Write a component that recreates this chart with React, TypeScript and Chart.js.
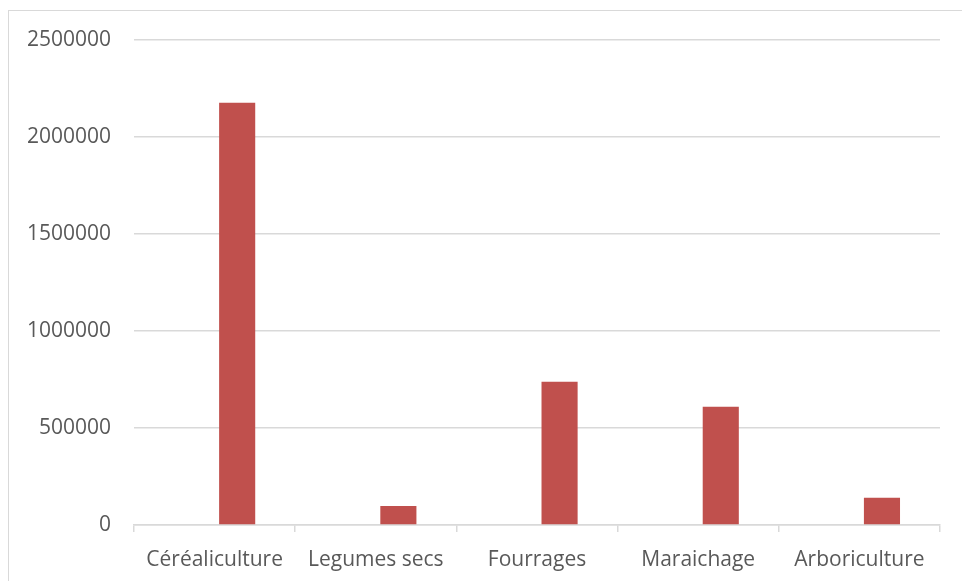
import React, { useEffect, useRef } from "react";
import { Chart, registerables } from "chart.js";

Chart.register(...registerables);

const categories = ["Céréaliculture", "Legumes secs", "Fourrages", "Maraichage", "Arboriculture"];
const emptySeries: (number | null)[] = [null, null, null, null, null];
const surfaceValues = [2176000, 98000, 739000, 609000, 141000];
const yMax = 2500000;
const yStep = 500000;

export default function App() {
  const ref = useRef<HTMLCanvasElement | null>(null);

  useEffect(() => {
    document.body.style.overflow = "hidden";
    const ctx = ref.current;
    if (!ctx) return;
    const font = { family: "'Open Sans', sans-serif", size: 21 };
    const chart = new Chart(ctx, {
      type: "bar",
      data: {
        labels: categories,
        datasets: [
          { label: "Série 1", data: emptySeries, backgroundColor: "#4F81BD" },
          { label: "Série 2", data: surfaceValues, backgroundColor: "#C0504D" },
        ],
      },
      options: {
        animation: false,
        responsive: false,
        maintainAspectRatio: false,
        devicePixelRatio: 1,
        layout: { padding: { top: 29, right: 23, bottom: 0, left: 0 } },
        plugins: { legend: { display: false }, tooltip: { enabled: false } },
        datasets: { bar: { categoryPercentage: 0.56, barPercentage: 0.8 } },
        scales: {
          x: {
            grid: {
              offset: true,
              drawOnChartArea: false,
              drawTicks: true,
              tickLength: 7,
              color: "#d9d9d9",
              lineWidth: 1.5,
            },
            border: { display: true, color: "#d9d9d9", width: 1.5 },
            ticks: { color: "#595959", font, padding: 15, maxRotation: 0, autoSkip: false },
            afterFit: (s: any) => {
              s.height = 56;
            },
          },
          y: {
            min: 0,
            max: yMax,
            ticks: {
              stepSize: yStep,
              color: "#595959",
              font,
              padding: 23,
              callback: (v: any) => String(v),
            },
            grid: { color: "#d9d9d9", lineWidth: 1.5, drawTicks: false },
            border: { display: false },
            afterFit: (s: any) => {
              s.width = 125;
              s.paddingTop = 0;
              s.paddingBottom = 0;
            },
          },
        },
      },
    } as any);
    return () => chart.destroy();
  }, []);

  return (
    <div
      style={{
        position: "absolute",
        left: 8,
        top: 10,
        width: 960,
        height: 600,
        border: "1.5px solid #d9d9d9",
        background: "#fff",
        boxSizing: "border-box",
      }}
    >
      <canvas ref={ref} width={954} height={570} style={{ display: "block", width: 954, height: 570 }} />
    </div>
  );
}
